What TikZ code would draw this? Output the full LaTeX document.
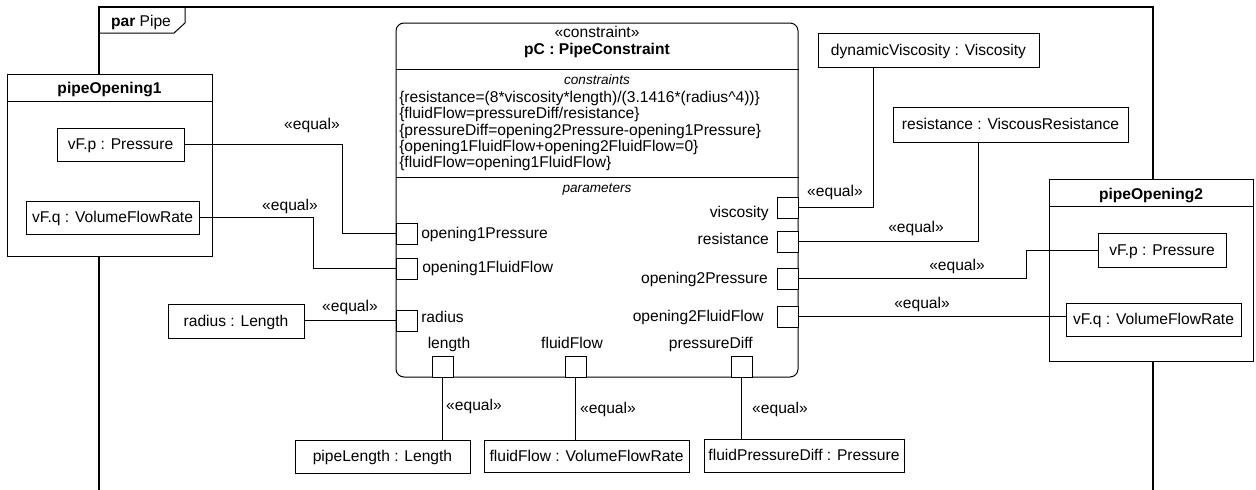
\documentclass[tikz,border=0pt]{standalone}
\usepackage{fontspec}
\setmainfont{Liberation Sans}
\usetikzlibrary{calc}
\newdimen\pu \pu=0.75pt
\tikzset{
  txt/.style={font=\fontsize{11.7}{13}\selectfont, text height=8.2pt, text depth=0pt, inner sep=0pt},
  ttl/.style={font=\fontsize{11.7}{13}\selectfont\bfseries, text height=8.2pt, text depth=0pt, inner sep=0pt},
  itl/.style={font=\fontsize{10.2}{12}\selectfont\itshape, text height=7.2pt, text depth=0pt, inner sep=0pt},
  pbox/.style={draw, fill=white, line width=0.75pt, txt},
  port/.style={draw, fill=white, line width=0.75pt, minimum width=21\pu, minimum height=21\pu, inner sep=0pt},
  conn/.style={line width=0.75pt},
  framestyle/.style={line width=1.5pt},
}
\begin{document}
\begin{tikzpicture}[x=0.75pt,y=-0.75pt]
\useasboundingbox (0,0) rectangle (1256,489);
\fill[white] (0,0) rectangle (1256,489);
\clip (0,0) rectangle (1256,489);
% frame
\draw[framestyle] (99,500) -- (99,7) -- (1153,7) -- (1153,500);
\draw[conn] (99,33) -- (174,33) -- (185,23) -- (185,7);
\node[txt] (ftab) at (141,21) {\textbf{par} Pipe};
% pipeOpening1
\node[pbox, minimum width=205\pu, minimum height=182\pu] (po1) at (109.5,165) {};
\draw[conn] ($(po1.north west)+(0,28)$) -- ($(po1.north east)+(0,28)$);
\node[ttl] (po1t) at (109.5,88) {pipeOpening1};
\node[pbox, minimum width=127\pu, minimum height=33\pu] (vfp1) at (120.5,144.5) {vF.p : Pressure};
\node[pbox, minimum width=173\pu, minimum height=33\pu] (vfq1) at (112.5,217.5) {vF.q : VolumeFlowRate};
% pipeOpening2
\node[pbox, minimum width=204\pu, minimum height=182\pu] (po2) at (1151,270) {};
\draw[conn] ($(po2.north west)+(0,28)$) -- ($(po2.north east)+(0,28)$);
\node[ttl] (po2t) at (1151,194) {pipeOpening2};
\node[pbox, minimum width=128\pu, minimum height=34\pu] (vfp2) at (1162,250) {vF.p : Pressure};
\node[pbox, minimum width=175\pu, minimum height=33\pu] (vfq2) at (1153.5,319.5) {vF.q : VolumeFlowRate};
% constraint block
\node[draw, line width=0.75pt, rounded corners=8\pu, minimum width=402\pu, minimum height=354\pu, inner sep=0pt] (pc) at (597,200) {};
\draw[conn] (pc.west |- 0,69) -- (pc.east |- 0,69);
\draw[conn] (pc.west |- 0,177) -- (pc.east |- 0,177);
\node[txt] (st) at (597,32) {«constraint»};
\node[ttl] (nm) at (597,49) {pC : PipeConstraint};
\node[itl] (ch) at (597,80) {constraints};
\node[txt, anchor=west] (c1) at (399,97) {\{resistance=(8*viscosity*length)/(3.1416*(radius\textasciicircum 4))\}};
\node[txt, anchor=west] (c2) at (399,113) {\{fluidFlow=pressureDiff/resistance\}};
\node[txt, anchor=west] (c3) at (399,130) {\{pressureDiff=opening2Pressure-opening1Pressure\}};
\node[txt, anchor=west] (c4) at (399,146) {\{opening1FluidFlow+opening2FluidFlow=0\}};
\node[txt, anchor=west] (c5) at (399,162) {\{fluidFlow=opening1FluidFlow\}};
\node[itl] (ph) at (597,188) {parameters};
% ports
\node[port] (p1) at (406.5,233.5) {};
\node[port] (p2) at (406.5,268.5) {};
\node[port] (p3) at (406.5,320.5) {};
\node[port] (pv) at (787.5,207.5) {};
\node[port] (pr) at (787.5,241.5) {};
\node[port] (po2p) at (787.5,278.5) {};
\node[port] (po2f) at (787.5,316.5) {};
\node[port] (plen) at (442.5,366.5) {};
\node[port] (pff) at (575.5,366.5) {};
\node[port] (ppd) at (741.5,366.5) {};
% port labels
\node[txt, anchor=west] (l1) at (421,233) {opening1Pressure};
\node[txt, anchor=west] (l2) at (422,267) {opening1FluidFlow};
\node[txt, anchor=west] (l3) at (421,317) {radius};
\node[txt, anchor=east] (lv) at (769,212) {viscosity};
\node[txt, anchor=east] (lr) at (769,239) {resistance};
\node[txt, anchor=east] (lo2p) at (768,278) {opening2Pressure};
\node[txt, anchor=east] (lo2f) at (764,316) {opening2FluidFlow};
\node[txt] (llen) at (449,343) {length};
\node[txt] (lff) at (572,343) {fluidFlow};
\node[txt, anchor=east] (lpd) at (753,343) {pressureDiff};
% outer value boxes
\node[pbox, minimum width=136\pu, minimum height=34\pu] (rl) at (236,321) {radius : Length};
\node[pbox, minimum width=175\pu, minimum height=33\pu] (pl) at (382.5,456.5) {pipeLength : Length};
\node[pbox, minimum width=205\pu, minimum height=32\pu] (ffb) at (586.5,456) {fluidFlow : VolumeFlowRate};
\node[pbox, minimum width=200\pu, minimum height=33\pu] (fpd) at (804,455.5) {fluidPressureDiff : Pressure};
\node[pbox, minimum width=221\pu, minimum height=34\pu] (dv) at (928.5,50) {dynamicViscosity : Viscosity};
\node[pbox, minimum width=235\pu, minimum height=35\pu] (rv) at (1010.5,124.5) {resistance : ViscousResistance};
% connectors
\draw[conn] (vfp1.east) -| ($(p1.west)+(-53,0)$) -- (p1.west);
\draw[conn] (vfq1.east) -| ($(p2.west)+(-82,0)$) -- (p2.west);
\draw[conn] (p3.west) -- (p3.west -| rl.east);
\draw[conn] (plen.south) -- (plen.south |- pl.north);
\draw[conn] (pff.south) -- (pff.south |- ffb.north);
\draw[conn] (ppd.south) -- (ppd.south |- fpd.north);
\draw[conn] (pv.east) -| ($(dv.south west)+(56,0)$);
\draw[conn] (pr.east) -| ($(rv.south west)+(86,0)$);
\draw[conn] (po2p.east) -| ($(vfp2.west)+(-71,0)$) -- (vfp2.west);
\draw[conn] (po2f.east) -- (po2f.east -| vfq2.west);
% equal labels
\node[txt] (e1) at (312,124) {«equal»};
\node[txt] (e2) at (290,205) {«equal»};
\node[txt] (e3) at (350,306) {«equal»};
\node[txt] (e4) at (474,405) {«equal»};
\node[txt] (e5) at (608,408) {«equal»};
\node[txt] (e6) at (780,408) {«equal»};
\node[txt] (e7) at (835,191) {«equal»};
\node[txt] (e8) at (916,227) {«equal»};
\node[txt] (e9) at (957,265) {«equal»};
\node[txt] (e10) at (922,303) {«equal»};
\end{tikzpicture}
\end{document}
